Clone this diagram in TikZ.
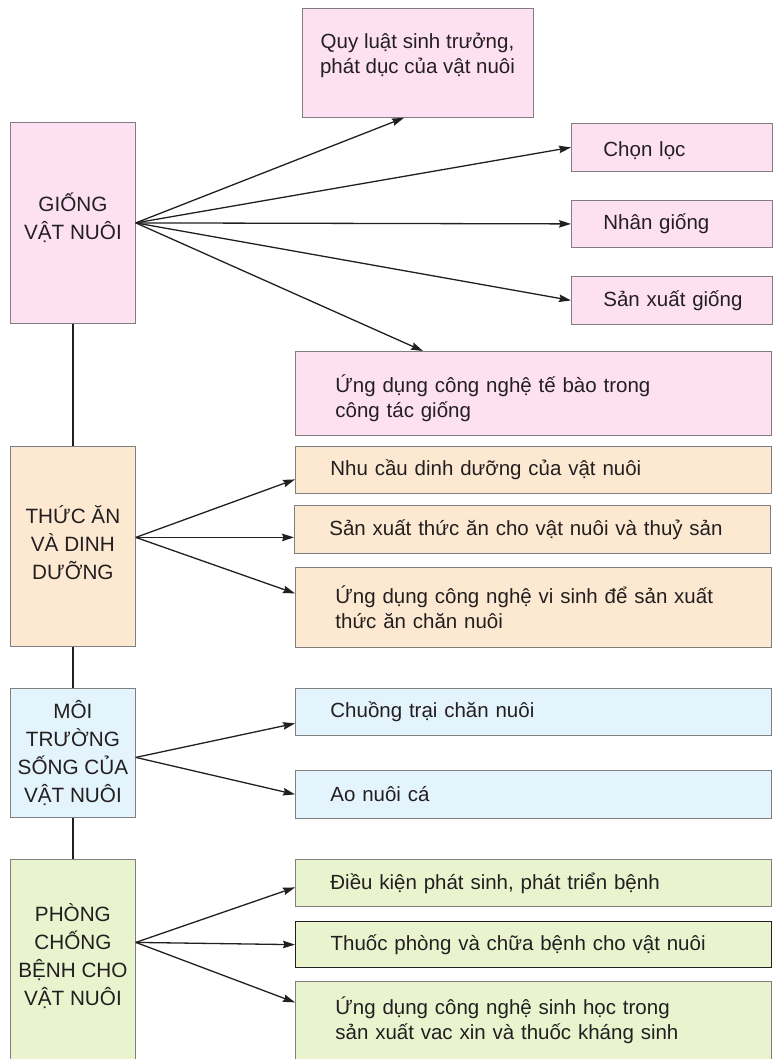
\documentclass[tikz,border=0pt]{standalone}
\usepackage{fontspec}
\setmainfont{Liberation Sans}
\usetikzlibrary{arrows.meta}
\definecolor{inkc}{HTML}{231F20}
\definecolor{edgec}{HTML}{7F7F7F}
\definecolor{pinkc}{HTML}{FDE1F2}
\definecolor{peachc}{HTML}{FDE9D2}
\definecolor{bluec}{HTML}{E4F4FC}
\definecolor{greenc}{HTML}{E9F4CF}
\tikzset{
  mainbox/.style={draw=edgec, line width=0.8pt, inner sep=0pt, anchor=north west,
    minimum width=125pt, align=center, text=inkc,
    font=\fontsize{20.7}{28}\selectfont},
  subbox/.style={draw=edgec, line width=0.8pt, inner ysep=0pt, anchor=north west,
    align=left, text=inkc, font=\fontsize{20.5}{25}\selectfont},
  smallbox/.style={subbox, inner xsep=32pt, text width=137pt},
  widebox/.style={subbox, inner xsep=35pt, text width=406pt},
  twobox/.style={subbox, inner xsep=40pt, text width=396pt},
  labeltxt/.style={align=center, text=inkc, inner sep=0pt, font=\fontsize{20.5}{25}\selectfont},
  arr/.style={draw=inkc, line width=1.3pt, -{Stealth[length=12pt,width=7.5pt,inset=1.5pt]}},
  link/.style={draw=inkc, line width=1.3pt}
}
\begin{document}
\begin{tikzpicture}[x=1pt,y=-1pt]
\useasboundingbox (0,0) rectangle (777,1059);

% ---- Giống vật nuôi ----
\node[mainbox, fill=pinkc, minimum height=201pt, text depth=14pt] (g) at (10,122) {GIỐNG\\VẬT NUÔI};
\node[draw=edgec, line width=0.8pt, fill=pinkc, anchor=north west, minimum width=231pt, minimum height=109pt, inner sep=0pt] (quy) at (302,8) {};
\node[labeltxt] (quytxt) at (417.5,55) {Quy luật sinh trưởng,\\phát dục của vật nuôi};
\node[smallbox, fill=pinkc, minimum height=48pt] (chon) at (571,123) {\rule{0pt}{21pt}Chọn lọc};
\node[smallbox, fill=pinkc, minimum height=47pt] (nhan) at (571,200) {Nhân giống};
\node[smallbox, fill=pinkc, minimum height=48pt] (sxg) at (571,276) {\mbox{Sản xuất giống}};
\node[twobox, fill=pinkc, minimum height=84pt, text depth=20pt] (ungtb) at (295,351) {Ứng dụng công nghệ tế bào trong\\công tác giống};

\draw[arr] (g.east) -- ([xshift=102pt]quy.south west);
\draw[arr] (g.east) -- (chon.west);
\draw[arr] (g.east) -- (nhan.west);
\draw[arr] (g.east) -- (sxg.west);
\draw[arr] (g.east) -- ([xshift=128pt]ungtb.north west);

% ---- Thức ăn và dinh dưỡng ----
\node[mainbox, fill=peachc, minimum height=200pt, text depth=8pt] (t) at (10,446) {THỨC ĂN\\VÀ DINH\\DƯỠNG};
\node[widebox, fill=peachc, minimum height=47pt] (nhu) at (295,446) {Nhu cầu dinh dưỡng của vật nuôi};
\node[widebox, fill=peachc, minimum height=48pt] (sxta) at (294,505) {Sản xuất thức ăn cho vật nuôi và thuỷ sản};
\node[twobox, fill=peachc, minimum height=80pt] (ungvs) at (295,567) {Ứng dụng công nghệ vi sinh để sản xuất\\thức ăn chăn nuôi};

\draw[arr] ([yshift=9pt]t.east) -- ([yshift=-9.5pt]nhu.west);
\draw[arr] ([yshift=9pt]t.east) -- ([yshift=-8pt]sxta.west);
\draw[arr] ([yshift=9pt]t.east) -- ([yshift=14pt]ungvs.west);

% ---- Môi trường sống ----
\node[mainbox, fill=bluec, minimum height=129pt] (m) at (10,688) {MÔI\\TRƯỜNG\\SỐNG CỦA\\VẬT NUÔI};
\node[widebox, fill=bluec, minimum height=47pt] (chuong) at (295,688) {Chuồng trại chăn nuôi};
\node[widebox, fill=bluec, minimum height=48pt] (ao) at (295,770) {Ao nuôi cá};

\draw[arr] ([yshift=-4.5pt]m.east) -- ([yshift=-11.5pt]chuong.west);
\draw[arr] ([yshift=-4.5pt]m.east) -- (ao.west);

% ---- Phòng chống bệnh ----
\node[mainbox, fill=greenc, minimum height=200pt, text depth=10.5pt] (p) at (10,859) {PHÒNG\\CHỐNG\\BỆNH CHO\\VẬT NUÔI};
\node[widebox, fill=greenc, minimum height=47pt] (dk) at (295,859) {Điều kiện phát sinh, phát triển bệnh};
\node[widebox, fill=greenc, minimum height=46pt, draw=inkc, line width=1.3pt] (thuoc) at (295,921) {Thuốc phòng và chữa bệnh cho vật nuôi};
\node[twobox, fill=greenc, minimum height=78pt] (ungsh) at (295,981) {Ứng dụng công nghệ sinh học trong\\sản xuất vac xin và thuốc kháng sinh};

\draw[arr] ([yshift=17pt]p.east) -- ([yshift=-4.5pt]dk.west);
\draw[arr] ([yshift=17pt]p.east) -- (thuoc.west);
\draw[arr] ([yshift=17pt]p.east) -- ([yshift=18pt]ungsh.west);

% ---- vertical links ----
\draw[link] (g.south) -- (t.north);
\draw[link] (t.south) -- (m.north);
\draw[link] (m.south) -- (p.north);
\end{tikzpicture}
\end{document}
